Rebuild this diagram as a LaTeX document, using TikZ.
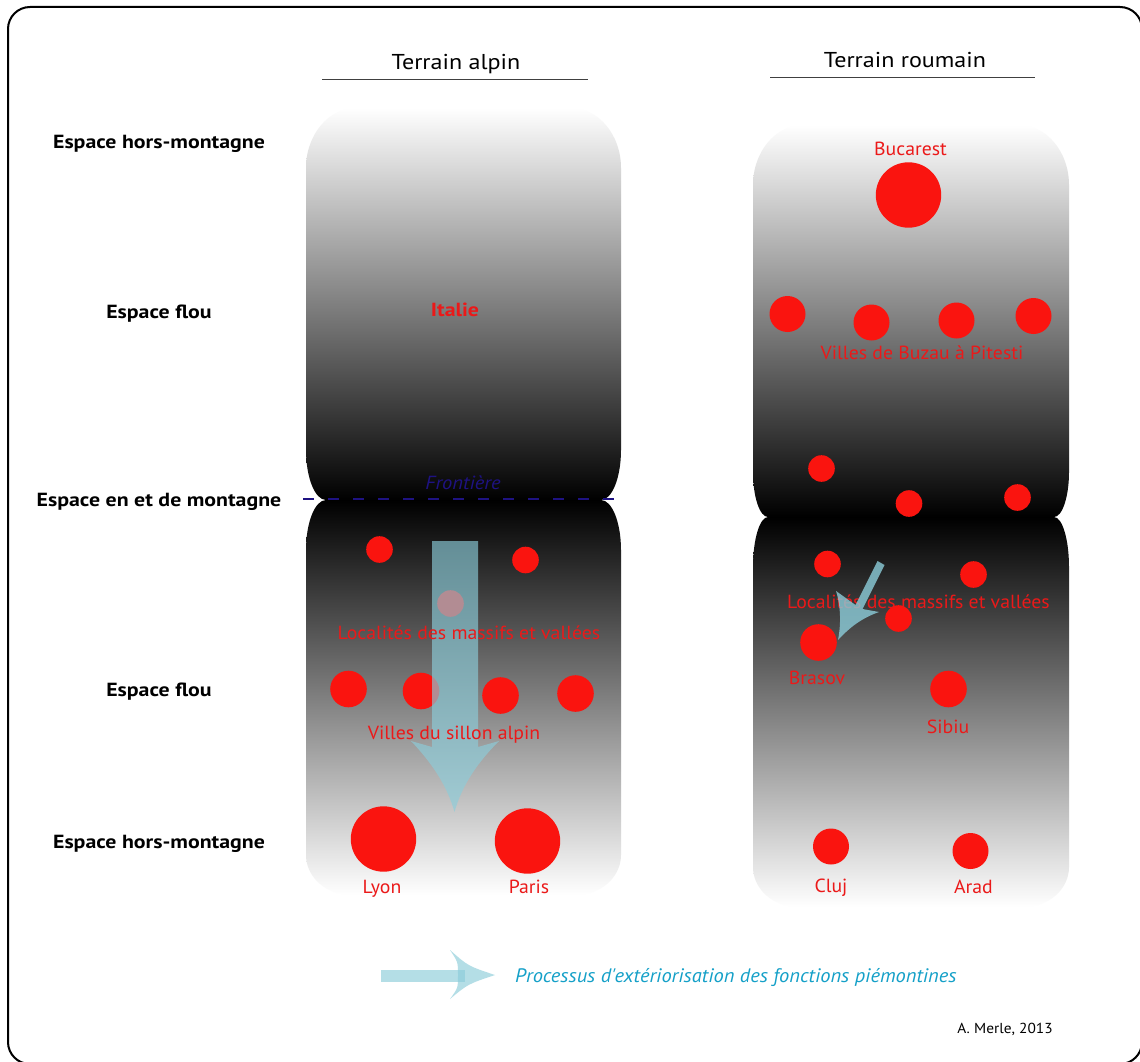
\documentclass[tikz,border=0pt]{standalone}
\usepackage{fontspec}
\setmainfont{PT Sans}
\newfontfamily\redfont[FakeStretch=1.04]{PT Sans}
\newfontfamily\sidefont[FakeStretch=1.15]{PT Sans}
\newfontfamily\titlefont[FakeStretch=1.12]{PT Sans}
\newfontfamily\frontfont[FakeStretch=1.08]{PT Sans}
\newfontfamily\legfont[FakeStretch=1.05]{PT Sans}
\newfontfamily\authfont[FakeStretch=1.06]{PT Sans}
\definecolor{cityred}{RGB}{250,20,15}
\definecolor{txtred}{RGB}{235,25,25}
\definecolor{navyline}{RGB}{30,18,130}
\definecolor{arrowblue}{RGB}{140,205,218}
\definecolor{legendblue}{RGB}{20,160,200}
\begin{document}
\begin{tikzpicture}[x=1pt,y=-1pt,
  city/.style={circle,fill=cityred,inner sep=0pt,minimum size=#1},
  lbl/.style={text=txtred,font=\redfont\fontsize{19}{22}\selectfont,inner sep=0pt,anchor=base},
  sidelbl/.style={font=\sidefont\bfseries\fontsize{19}{22}\selectfont,inner sep=0pt,anchor=base},
  titlelbl/.style={font=\titlefont\fontsize{21.5}{24}\selectfont,inner sep=0pt,anchor=base},
  flow/.style={fill=arrowblue,fill opacity=0.65},
  uppershade/.style={top color=white,bottom color=black},
  lowershade/.style={top color=black,bottom color=white}]

\useasboundingbox (0,0) rectangle (1140,1062);
\fill[white] (0,0) rectangle (1140,1062);
\draw[line width=2pt,rounded corners=22pt] (8,7) rectangle (1142,1064);

% ---- titles ----
\node[titlelbl] (t1) at (456,70) {Terrain alpin};
\node[titlelbl] (t2) at (905,68) {Terrain roumain};
\draw[line width=1pt,black!75] (322,80) -- (588,80);
\draw[line width=1pt,black!75] (770,78) -- (1035,78);

% ---- side labels ----
\node[sidelbl] (s1) at (159,148) {Espace hors-montagne};
\node[sidelbl] (s2) at (159,318) {Espace flou};
\node[sidelbl] (s3) at (159,506) {Espace en et de montagne};
\node[sidelbl] (s4) at (159,696) {Espace flou};
\node[sidelbl] (s5) at (159,848) {Espace hors-montagne};

% ---- left column shapes ----
\shade[uppershade] (306,168) -- (306,450) .. controls (306,477.6) and (315,500) .. (326,500)
  -- (601,500) .. controls (612,500) and (621,477.6) .. (621,450) -- (621,168)
  .. controls (621,134.9) and (598.6,108) .. (571,108) -- (356,108)
  .. controls (328.4,108) and (306,134.9) .. (306,168) -- cycle;
\shade[lowershade] (326,500) -- (601,500) .. controls (612,500) and (621,522.4) .. (621,550)
  -- (621,855) .. controls (621,877.1) and (600.8,895) .. (576,895) -- (351,895)
  .. controls (326.2,895) and (306,877.1) .. (306,855) -- (306,550)
  .. controls (306,522.4) and (315,500) .. (326,500) -- cycle;

% ---- right column shapes ----
\shade[uppershade] (753,185) -- (753,472) .. controls (753,496.8) and (759.7,517) .. (768,517)
  -- (1054,517) .. controls (1062.3,517) and (1069,496.8) .. (1069,472) -- (1069,185)
  .. controls (1069,151.9) and (1046.6,125) .. (1019,125) -- (803,125)
  .. controls (775.4,125) and (753,151.9) .. (753,185) -- cycle;
\shade[lowershade] (768,517) -- (1054,517) .. controls (1062.3,517) and (1069,539.4) .. (1069,567)
  -- (1069,867) .. controls (1069,889.1) and (1048.8,907) .. (1024,907) -- (798,907)
  .. controls (773.2,907) and (753,889.1) .. (753,867) -- (753,567)
  .. controls (753,539.4) and (759.7,517) .. (768,517) -- cycle;

% ---- border line ----
\coordinate (fA) at (303,499);
\coordinate (fB) at (620,499);
\draw[navyline,line width=2pt,dash pattern=on 11pt off 14pt] (fA) -- (fB);
\node[font=\frontfont\itshape\fontsize{19}{21}\selectfont,text=navyline,inner sep=0pt,anchor=base] (front) at (463,489) {Frontière};

\node[font=\sidefont\bfseries\fontsize{19}{21}\selectfont,text=txtred,inner sep=0pt,anchor=base] (italie) at (455,316) {Italie};

% ---- left cities ----
\node[city=26.6pt] (a1) at (379.5,549.5) {};
\node[city=26.6pt] (a2) at (525.5,560) {};
\node[city=26.6pt] (a3) at (450.5,603.5) {};
\node[city=36.6pt] (b1) at (348.5,689) {};
\node[city=36.6pt] (b2) at (421,691) {};
\node[city=36.6pt] (b3) at (500.5,695.5) {};
\node[city=36.6pt] (b4) at (575.5,693.5) {};
\node[city=65.4pt] (lyon) at (383.5,839) {};
\node[city=65.4pt] (paris) at (527.5,841) {};

% ---- left big arrow ----
\fill[flow] (432,541) -- (478,541) -- (478,747) -- (499,741)
  .. controls (478,762) and (462,785) .. (454.5,812)
  .. controls (447,785) and (431,762) .. (411,741) -- (432,747) -- cycle;

\node[lbl] (locA) at (469,639) {Localités des massifs et vallées};
\node[lbl] (vilA) at (454,739) {Villes du sillon alpin};
\node[lbl] (lyonT) at (382,893) {Lyon};
\node[lbl] (parisT) at (529,893) {Paris};

% ---- right cities ----
\node[lbl] (bucT) at (910.5,156) {Bucarest};
\node[city=65.4pt] (buc) at (908.5,195) {};
\node[city=36pt] (r1) at (787.5,314) {};
\node[city=36pt] (r2) at (871.5,322.5) {};
\node[city=36pt] (r3) at (956.5,320.5) {};
\node[city=36pt] (r4) at (1033.5,316) {};
\node[lbl] (buzT) at (922,359.5) {Villes de Buzau à Pitesti};

\node[city=26.6pt] (m1) at (821.5,468.5) {};
\node[city=26.6pt] (m2) at (909,503.5) {};
\node[city=26.6pt] (m3) at (1017.5,497.5) {};
\node[city=26.6pt] (m4) at (827.5,564) {};
\node[city=26.6pt] (m5) at (973.5,574.5) {};
\node[city=26.6pt] (m6) at (898.5,618.5) {};
\node[city=36.6pt] (brasov) at (818.5,642.5) {};
\node[city=36.6pt] (sibiu) at (948.5,689) {};
\node[city=36pt] (cluj) at (831,846.5) {};
\node[city=36pt] (arad) at (970.5,851) {};

\node[lbl] (locR) at (918.5,608) {Localités des massifs et vallées};
\node[lbl] (brasovT) at (817,684) {Brasov};
\node[lbl] (sibiuT) at (948,733) {Sibiu};
\node[lbl] (clujT) at (831,892) {Cluj};
\node[lbl] (aradT) at (973.5,893) {Arad};

% ---- right small arrow ----
\fill[flow,fill opacity=0.8] (877.5,561) -- (855.5,605) -- (836,591)
  .. controls (841,607) and (841,625) .. (838,640)
  .. controls (850,627) and (862,618) .. (879,612)
  -- (862.5,609) -- (884.5,565) -- cycle;

% ---- legend ----
\fill[flow] (381,970) rectangle (465,982);
\fill[flow] (450,950) .. controls (468,966) .. (495,975) .. controls (468,984) .. (450,999)
  .. controls (458,988) .. (458,975) .. controls (458,962) .. (450,950) -- cycle;
\node[font=\legfont\itshape\fontsize{19.5}{22}\selectfont,text=legendblue,inner sep=0pt,anchor=base west] (leg) at (515,982) {Processus d'extériorisation des fonctions piémontines};
\node[font=\authfont\fontsize{14.5}{16}\selectfont,inner sep=0pt,anchor=base] (auth) at (1005,1033) {A. Merle, 2013};
\end{tikzpicture}
\end{document}
